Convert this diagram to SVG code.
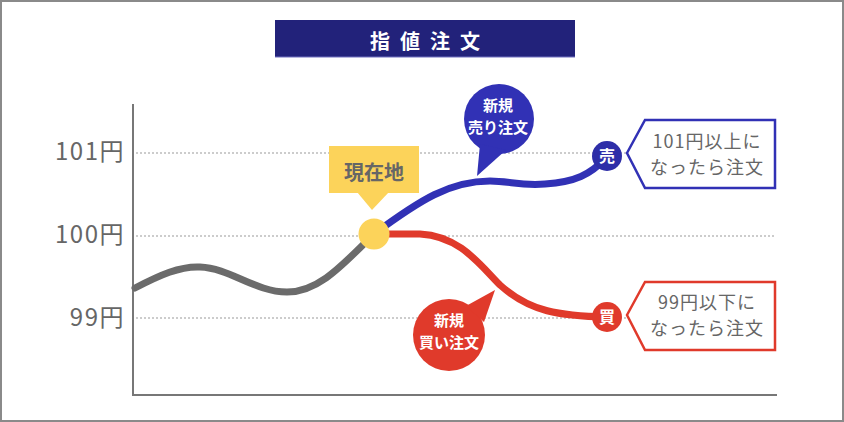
<svg xmlns="http://www.w3.org/2000/svg" width="844" height="422" viewBox="0 0 844 422">
<style>
.jp{font-family:"Noto Sans CJK JP","Noto Sans",sans-serif}
.grid{stroke:#9a9a9a;stroke-width:1.2;stroke-dasharray:2 2;fill:none}
.axis{fill:#666;font-size:24px;text-anchor:end;letter-spacing:1.5px}
.curve{fill:none;stroke-width:7;stroke-linecap:round;stroke-linejoin:round}
.wt{fill:#fff;font-weight:bold;text-anchor:middle}
.gt{fill:#666;font-size:18px;text-anchor:middle;letter-spacing:1px}
</style>
<rect x="1" y="1" width="842" height="420" fill="#fff" stroke="#8a8a8a" stroke-width="2"/>

<g id="title">
<rect x="275" y="20" width="300" height="37" fill="#22227a"/>
<line x1="275" y1="57" x2="575" y2="57" stroke="#7070c0" stroke-width="1"/>
<text class="jp wt" x="430" y="49" font-size="20" letter-spacing="10">指値注文</text>
</g>

<g id="axes">
<line x1="133" y1="104" x2="133" y2="396" stroke="#777" stroke-width="2"/>
<line x1="132" y1="395" x2="777" y2="395" stroke="#777" stroke-width="2"/>
<line class="grid" x1="136" y1="153" x2="776" y2="153"/>
<line class="grid" x1="136" y1="236" x2="776" y2="236"/>
<line class="grid" x1="136" y1="318" x2="776" y2="318"/>
<text class="jp axis" x="125" y="160">101円</text>
<text class="jp axis" x="125" y="243">100円</text>
<text class="jp axis" x="125" y="326">99円</text>
</g>

<g id="connectors">
<path class="curve" stroke="#6b6b6b" d="M135,288 C160,275 180,266 200,267 C230,268 255,292 287,292 C320,292 345,262 374,234"/>
<path class="curve" stroke="#3131b5" d="M374,234 C420,200 450,181 490,181 C510,181 520,186 545,184 C575,182 590,175 607,157"/>
<path class="curve" stroke="#e03a2b" d="M374,234 L420,234 C460,236 480,265 500,285 C530,312 560,316 607,317"/>
</g>

<g id="current">
<circle cx="374" cy="234" r="15.5" fill="#fcd35a"/>
<rect x="329" y="146" width="90" height="47" fill="#fcd35a"/>
<polygon points="357,192 389,192 372,210" fill="#fcd35a"/>
<text class="jp" x="374" y="180" font-size="20" font-weight="bold" fill="#666" text-anchor="middle">現在地</text>
</g>

<g id="sell-bubble">
<circle cx="499" cy="119" r="35" fill="#3131b5"/>
<polygon points="480,144 477,176 506,150" fill="#3131b5"/>
<text class="jp wt" x="498" y="111" font-size="15">新規</text>
<text class="jp wt" x="498" y="133" font-size="15">売り注文</text>
</g>

<g id="sell-point">
<circle cx="607" cy="156" r="15" fill="#2e2ea8"/>
<text class="jp wt" x="607" y="162" font-size="16">売</text>
</g>

<g id="sell-box">
<polygon points="627,153 645,120 775,120 775,188 645,188" fill="#fff" stroke="#3131b5" stroke-width="2.5"/>
<text class="jp gt" x="707" y="148">101円以上に</text>
<text class="jp gt" x="707" y="174">なったら注文</text>
</g>

<g id="buy-bubble">
<circle cx="449" cy="335" r="36" fill="#e03a2b"/>
<polygon points="466,306 495,290 484,322" fill="#e03a2b"/>
<text class="jp wt" x="449" y="326" font-size="15">新規</text>
<text class="jp wt" x="449" y="348" font-size="15">買い注文</text>
</g>

<g id="buy-point">
<circle cx="607" cy="317" r="15" fill="#e03a2b"/>
<text class="jp wt" x="607" y="323" font-size="16">買</text>
</g>

<g id="buy-box">
<polygon points="627,315 645,282 775,282 775,350 645,350" fill="#fff" stroke="#e03a2b" stroke-width="2.5"/>
<text class="jp gt" x="707" y="309">99円以下に</text>
<text class="jp gt" x="707" y="335">なったら注文</text>
</g>
</svg>
